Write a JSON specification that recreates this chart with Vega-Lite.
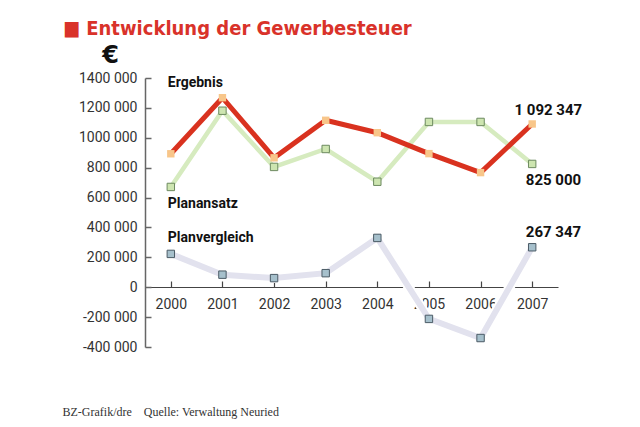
{
  "$schema": "https://vega.github.io/schema/vega-lite/v6.json",
  "width": 413,
  "height": 269,
  "autosize": "none",
  "padding": {"left": 145, "top": 78, "right": 82, "bottom": 80},
  "background": "white",
  "config": {
    "view": {"stroke": null},
    "font": "Roboto"
  },
  "title": {
    "text": "■ Entwicklung der Gewerbesteuer",
    "anchor": "start",
    "frame": "group",
    "dx": -82,
    "dy": -4,
    "offset": 0,
    "font": "DejaVu Sans Condensed",
    "fontSize": 20,
    "fontWeight": "bold",
    "color": "#d9322a"
  },
  "data": {
    "values": [
      {"year": "2000", "series": "Ergebnis", "value": 893000},
      {"year": "2001", "series": "Ergebnis", "value": 1268000},
      {"year": "2002", "series": "Ergebnis", "value": 866000},
      {"year": "2003", "series": "Ergebnis", "value": 1117000},
      {"year": "2004", "series": "Ergebnis", "value": 1034000},
      {"year": "2005", "series": "Ergebnis", "value": 894000},
      {"year": "2006", "series": "Ergebnis", "value": 767000},
      {"year": "2007", "series": "Ergebnis", "value": 1092347},
      {"year": "2000", "series": "Planansatz", "value": 671000},
      {"year": "2001", "series": "Planansatz", "value": 1181000},
      {"year": "2002", "series": "Planansatz", "value": 805000},
      {"year": "2003", "series": "Planansatz", "value": 925000},
      {"year": "2004", "series": "Planansatz", "value": 706000},
      {"year": "2005", "series": "Planansatz", "value": 1106000},
      {"year": "2006", "series": "Planansatz", "value": 1106000},
      {"year": "2007", "series": "Planansatz", "value": 825000},
      {"year": "2000", "series": "Planvergleich", "value": 223000},
      {"year": "2001", "series": "Planvergleich", "value": 84000},
      {"year": "2002", "series": "Planvergleich", "value": 61000},
      {"year": "2003", "series": "Planvergleich", "value": 94000},
      {"year": "2004", "series": "Planvergleich", "value": 330000},
      {"year": "2005", "series": "Planvergleich", "value": -212000},
      {"year": "2006", "series": "Planvergleich", "value": -340000},
      {"year": "2007", "series": "Planvergleich", "value": 267347}
    ]
  },
  "encoding": {
    "x": {
      "field": "year",
      "type": "ordinal",
      "scale": {"paddingInner": 0, "paddingOuter": 0},
      "axis": {
        "orient": "bottom",
        "offset": -60,
        "labelAngle": 0,
        "bandPosition": 1,
        "tickSize": -6,
        "labelPadding": 16,
        "domainColor": "#444",
        "domainWidth": 1.2,
        "tickColor": "#444",
        "tickWidth": 1.2,
        "labelColor": "#333",
        "labelFont": "Roboto",
        "labelFontSize": 14,
        "title": "BZ-Grafik/dre\u00a0\u00a0\u00a0\u00a0Quelle: Verwaltung Neuried",
        "titleFont": "Liberation Serif",
        "titleFontSize": 12,
        "titleFontWeight": "normal",
        "titleColor": "#333",
        "titleAnchor": "start",
        "titleAlign": "left",
        "titleX": -83,
        "titleY": 128,
        "titleBaseline": "alphabetic"
      }
    },
    "y": {
      "field": "value",
      "type": "quantitative",
      "scale": {"domain": [-400000, 1400000], "nice": false, "zero": false},
      "axis": {
        "values": [-400000, -200000, 0, 200000, 400000, 600000, 800000, 1000000, 1200000, 1400000],
        "labelExpr": "datum.value == 0 ? '0' : floor(datum.value / 1000) + ' 000'",
        "grid": false,
        "tickSize": -6,
        "labelPadding": 14,
        "domainColor": "#666",
        "domainWidth": 1.5,
        "tickColor": "#666",
        "tickWidth": 1.5,
        "labelColor": "#333",
        "labelFont": "Roboto",
        "labelFontSize": 14,
        "title": "€",
        "titleAngle": 0,
        "titleX": -35,
        "titleY": -16,
        "titleAlign": "center",
        "titleBaseline": "alphabetic",
        "titleFont": "DejaVu Sans",
        "titleFontSize": 24,
        "titleFontWeight": "bold",
        "titleColor": "#111"
      }
    }
  },
  "layer": [
    {
      "transform": [{"filter": "datum.series == 'Planvergleich'"}],
      "mark": {"type": "line", "color": "white", "strokeWidth": 10}
    },
    {
      "transform": [{"filter": "datum.series == 'Planvergleich'"}],
      "mark": {"type": "line", "color": "#e2e2ee", "strokeWidth": 6}
    },
    {
      "transform": [{"filter": "datum.series == 'Planvergleich'"}],
      "mark": {"type": "point", "shape": "square", "size": 55, "filled": true, "fill": "#a6c0cc", "stroke": "#4b5b66", "strokeWidth": 1, "opacity": 1}
    },
    {
      "transform": [{"filter": "datum.series == 'Planansatz'"}],
      "mark": {"type": "line", "color": "#d6ebbf", "strokeWidth": 4.5}
    },
    {
      "transform": [{"filter": "datum.series == 'Planansatz'"}],
      "mark": {"type": "point", "shape": "square", "size": 55, "filled": true, "fill": "#cde5b0", "stroke": "#6d8a60", "strokeWidth": 1, "opacity": 1}
    },
    {
      "transform": [{"filter": "datum.series == 'Ergebnis'"}],
      "mark": {"type": "line", "color": "#d9321f", "strokeWidth": 5}
    },
    {
      "transform": [{"filter": "datum.series == 'Ergebnis'"}],
      "mark": {"type": "point", "shape": "square", "size": 55, "filled": true, "fill": "#f8c68a", "opacity": 1}
    },
    {
      "transform": [{"filter": "datum.series == 'Ergebnis' && datum.year == '2000'"}],
      "mark": {"type": "text", "text": "Ergebnis", "align": "left", "baseline": "middle", "dx": -3, "dy": -71, "font": "Roboto", "fontWeight": "bold", "fontSize": 14, "color": "#111"}
    },
    {
      "transform": [{"filter": "datum.series == 'Planansatz' && datum.year == '2000'"}],
      "mark": {"type": "text", "text": "Planansatz", "align": "left", "baseline": "middle", "dx": -3, "dy": 17, "font": "Roboto", "fontWeight": "bold", "fontSize": 14, "color": "#111"}
    },
    {
      "transform": [{"filter": "datum.series == 'Planvergleich' && datum.year == '2000'"}],
      "mark": {"type": "text", "text": "Planvergleich", "align": "left", "baseline": "middle", "dx": -3, "dy": -16, "font": "Roboto", "fontWeight": "bold", "fontSize": 14, "color": "#111"}
    },
    {
      "transform": [
        {"filter": "datum.series == 'Ergebnis' && datum.year == '2007'"},
        {"calculate": "replace(replace(format(datum.value, ','), ',', ' '), ',', ' ')", "as": "lab"}
      ],
      "mark": {"type": "text", "align": "right", "baseline": "middle", "dx": 50, "dy": -14, "font": "Roboto", "fontWeight": "bold", "fontSize": 15, "color": "#111"},
      "encoding": {"text": {"field": "lab"}}
    },
    {
      "transform": [
        {"filter": "datum.series == 'Planansatz' && datum.year == '2007'"},
        {"calculate": "replace(replace(format(datum.value, ','), ',', ' '), ',', ' ')", "as": "lab"}
      ],
      "mark": {"type": "text", "align": "right", "baseline": "middle", "dx": 49, "dy": 16, "font": "Roboto", "fontWeight": "bold", "fontSize": 15, "color": "#111"},
      "encoding": {"text": {"field": "lab"}}
    },
    {
      "transform": [
        {"filter": "datum.series == 'Planvergleich' && datum.year == '2007'"},
        {"calculate": "replace(replace(format(datum.value, ','), ',', ' '), ',', ' ')", "as": "lab"}
      ],
      "mark": {"type": "text", "align": "right", "baseline": "middle", "dx": 49, "dy": -15, "font": "Roboto", "fontWeight": "bold", "fontSize": 15, "color": "#111"},
      "encoding": {"text": {"field": "lab"}}
    }
  ]
}
